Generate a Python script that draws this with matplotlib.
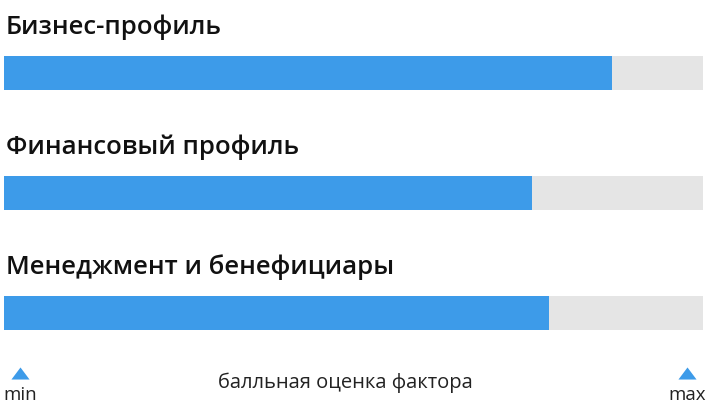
import matplotlib.pyplot as plt

# factor scores on a 0..100 scale (min..max)
categories = ['Бизнес-профиль', 'Финансовый профиль', 'Менеджмент и бенефициары']
scores = [87, 75.5, 78]
score_max = 100
axis_label = 'балльная оценка фактора'
end_labels = ['min', 'max']

W, H = 706, 412
BLUE = '#3d9be9'
GREY = '#e5e5e5'

fig = plt.figure(figsize=(W / 100, H / 100), dpi=100)

# axes spanning the bar track horizontally, pixel rows vertically
x0, x1 = 3.5, 703
ax = fig.add_axes([x0 / W, 0, (x1 - x0) / W, 1])
ax.set_xlim(0, score_max)
ax.set_ylim(H, 0)
ax.axis('off')

bar_centers = [73, 193, 313]
bar_h = 34
ax.barh(bar_centers, [score_max] * len(scores), height=bar_h, color=GREY)
ax.barh(bar_centers, scores, height=bar_h, color=BLUE)

for name, yc in zip(categories, bar_centers):
    fig.text(6 / W, 1 - (yc - 39) / H, name, fontsize=18.5, fontweight='semibold',
             family='Open Sans', color='#111111', va='baseline', ha='left')

# min / max markers under the track
tri = [(-9, -6), (9, -6), (0, 6)]
ax.scatter([2.36, 97.7], [373, 373], marker=tri, s=170, color=BLUE,
           linewidths=0, clip_on=False)
fig.text(3 / W, 1 - 400 / H, end_labels[0], fontsize=13.5, family='Open Sans',
         color='#222222', va='baseline', ha='left')
fig.text(668 / W, 1 - 400 / H, end_labels[1], fontsize=13.5, family='Open Sans',
         color='#222222', va='baseline', ha='left')
fig.text(345 / W, 1 - 388 / H, axis_label, fontsize=14.5, family='Open Sans',
         color='#222222', va='baseline', ha='center')

fig.savefig('out.png', dpi=100)
